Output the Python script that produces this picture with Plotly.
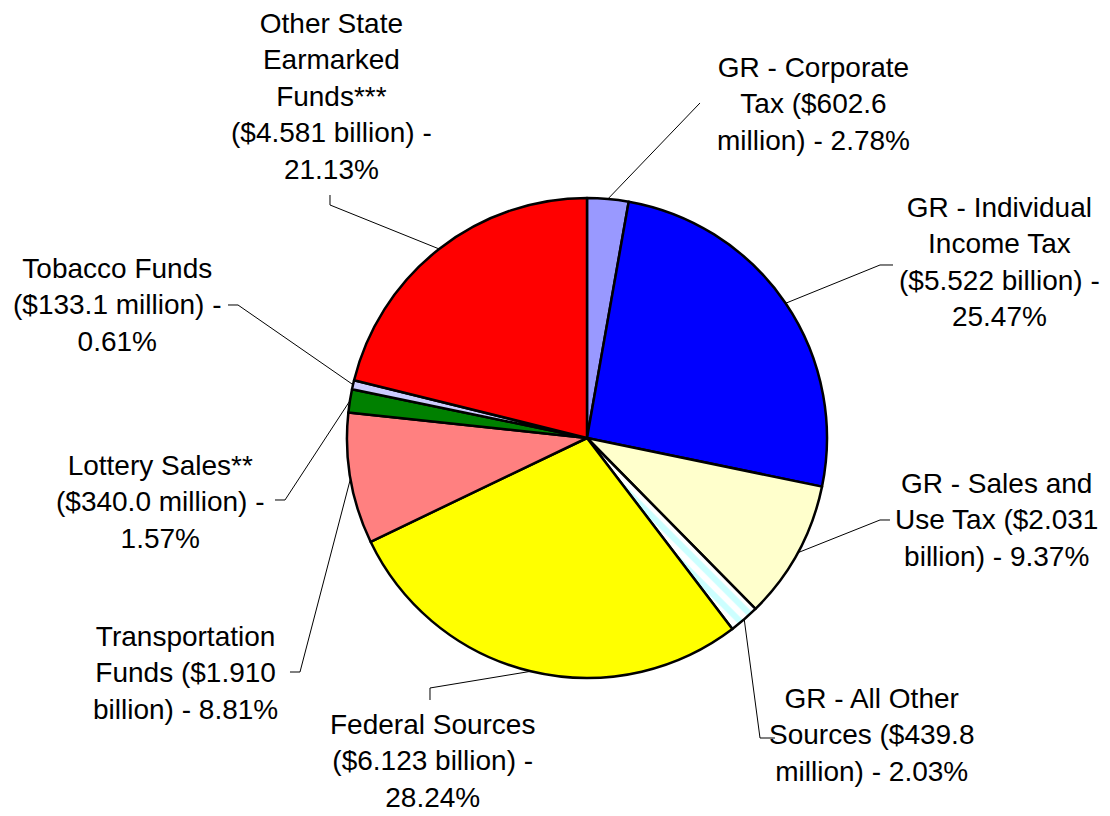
import numpy as np
import plotly.graph_objects as go

# Données du graphique (sens horaire depuis midi)
labels = [
    "GR - Corporate<br>Tax ($602.6<br>million) - 2.78%",
    "GR - Individual<br>Income Tax<br>($5.522 billion) -<br>25.47%",
    "GR - Sales and<br>Use Tax ($2.031<br>billion) - 9.37%",
    "GR - All Other<br>Sources ($439.8<br>million) - 2.03%",
    "Federal Sources<br>($6.123 billion) -<br>28.24%",
    "Transportation<br>Funds ($1.910<br>billion) - 8.81%",
    "Lottery Sales**<br>($340.0 million) -<br>1.57%",
    "Tobacco Funds<br>($133.1 million) -<br>0.61%",
    "Other State<br>Earmarked<br>Funds***<br>($4.581 billion) -<br>21.13%",
]
shares = [2.78, 25.47, 9.37, 2.03, 28.24, 8.81, 1.57, 0.61, 21.13]
colors = ["#9999FF", "#0000FF", "#FFFFCC", "#FFFFFF", "#FFFF00",
          "#FF8080", "#008000", "#CCCCFF", "#FF0000"]

# position des étiquettes (pixels) et points de départ des traits de rappel
label_pos = [(813, 104), (999, 262), (996, 520), (871, 735), (432, 761),
             (185, 673), (160, 502), (117, 305), (331, 96)]
leader_start = [
    [(700, 103)],
    [(893, 265), (880, 265)],
    [(890, 520), (880, 520)],
    [(775, 738), (760, 738)],
    [(430, 700), (430, 688)],
    [(290, 672), (300, 672)],
    [(275, 500), (285, 500)],
    [(228, 305), (238, 305)],
    [(330, 195), (330, 205)],
]

W, H = 1110, 816
OFF = 8  # marge du body html
cx, cy, r = 587, 438, 240

def px(x):
    return (x - OFF) / W

def py(y):
    return 1 - (y - OFF) / H

fig = go.Figure(go.Pie(
    values=shares,
    sort=False,
    direction="clockwise",
    rotation=0,
    textinfo="none",
    hoverinfo="percent",
    marker=dict(colors=colors, line=dict(color="black", width=2.5),
                pattern=dict(shape=["", "", "", "\\", "", "", "", "", ""],
                             fgcolor="#CCFFFF", size=12, solidity=0.5)),
    domain=dict(x=[px(cx - r), px(cx + r)], y=[py(cy + r), py(cy - r)]),
    showlegend=False,
))

# angles des milieux de secteurs
cum = np.cumsum(shares) - np.array(shares) / 2
angles = np.deg2rad(cum / sum(shares) * 360)

shapes = []
annotations = []
for lab, (tx, ty), pts, a in zip(labels, label_pos, leader_start, angles):
    ex = cx + r * np.sin(a)
    ey = cy - r * np.cos(a)
    allpts = pts + [(ex, ey)]
    path = "M " + " L ".join(f"{px(x):.5f},{py(y):.5f}" for x, y in allpts)
    shapes.append(dict(type="path", path=path, xref="paper", yref="paper",
                       line=dict(color="black", width=1)))
    annotations.append(dict(text=lab, x=px(tx), y=py(ty), xref="paper", yref="paper",
                            showarrow=False, xanchor="center", yanchor="middle",
                            align="center",
                            font=dict(size=28, color="black",
                                      family="Liberation Sans, Arial")))

fig.update_layout(
    width=W, height=H,
    margin=dict(l=0, r=0, t=0, b=0),
    paper_bgcolor="white",
    plot_bgcolor="white",
    shapes=shapes,
    annotations=annotations,
)

fig.write_html("out.html")
